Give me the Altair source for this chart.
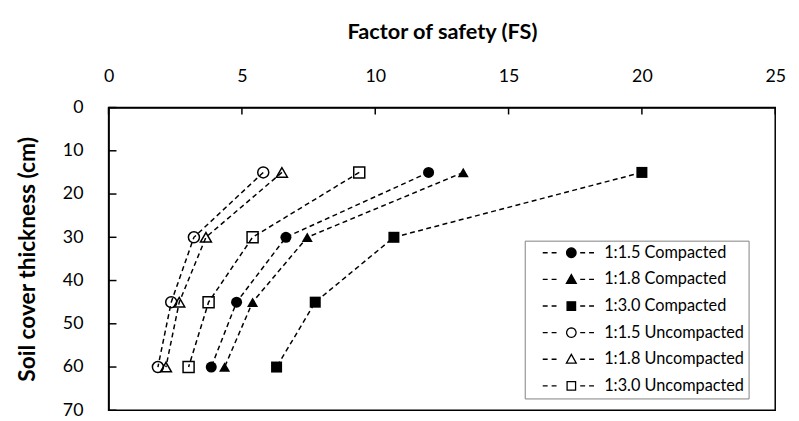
import math
import altair as alt
import pandas as pd

# ---- data ----
thickness = [15, 30, 45, 60]
series_names = [
    "1:1.5 Compacted", "1:1.8 Compacted", "1:3.0 Compacted",
    "1:1.5 Uncompacted", "1:1.8 Uncompacted", "1:3.0 Uncompacted",
]
fs_c15 = [12.0, 6.65, 4.8, 3.85]
fs_c18 = [13.3, 7.45, 5.4, 4.35]
fs_c30 = [20.0, 10.7, 7.75, 6.3]
fs_u15 = [5.8, 3.2, 2.35, 1.85]
fs_u18 = [6.5, 3.65, 2.65, 2.15]
fs_u30 = [9.4, 5.4, 3.75, 3.0]
x_ticks = [0, 5, 10, 15, 20, 25]
y_ticks = [0, 10, 20, 30, 40, 50, 60, 70]

all_fs = [fs_c15, fs_c18, fs_c30, fs_u15, fs_u18, fs_u30]
rows = []
for name, vals in zip(series_names, all_fs):
    for t, v in zip(thickness, vals):
        rows.append({"series": name, "thickness": t, "fs": v})
df = pd.DataFrame(rows)

shapes = ["circle", "triangle-up", "square", "circle", "triangle-up", "square"]
filled = [True, True, True, False, False, False]

# ---- legend symbol paths (dashed line + marker), unit = 7 px ----
U = 7.0
def px(v):
    return round(v / U, 3)

dashes = "".join(
    f"M{px(a)},0L{px(b)},0" for a, b in [(-29, -24), (-20, -15), (9, 14), (18, 23)]
)
def circle_path(r):
    pts = []
    for k in range(24):
        a = 2 * math.pi * k / 24
        pts.append(f"{round(r*math.cos(a),3)},{round(r*math.sin(a),3)}")
    return "M" + "L".join(pts) + "Z"
circ = circle_path(px(4.8))
tri = f"M0,{px(-5)}L{px(5)},{px(4)}L{px(-5)},{px(4)}Z"
sq = f"M{px(-4.3)},{px(-4.3)}L{px(4.3)},{px(-4.3)}L{px(4.3)},{px(4.3)}L{px(-4.3)},{px(4.3)}Z"
legend_paths = [dashes + circ, dashes + tri, dashes + sq] * 2
legend_fills = ["black", "black", "black", "white", "white", "white"]
legend_strokes = ["black"] * 6

FONT = "Lato"

xscale = alt.Scale(domain=[0, 25], nice=False)
yscale = alt.Scale(domain=[0, 70], reverse=True, nice=False)

x_enc = alt.X(
    "fs:Q", scale=xscale,
    axis=alt.Axis(orient="top", values=x_ticks, title="Factor of safety (FS)",
                  tickSize=0, labelPadding=22, titlePadding=25, grid=False,
                  labelFlush=False, titleFontSize=22),
)
y_enc = alt.Y(
    "thickness:Q", scale=yscale,
    axis=alt.Axis(orient="left", values=y_ticks, title="Soil cover thickness (cm)",
                  tickSize=0, labelPadding=26, titlePadding=23, grid=False,
                  labelFlush=False, titleFontSize=23),
)

base = alt.Chart(df)

lines = base.mark_line(strokeDash=[5, 3.5], strokeWidth=1.5, color="black").encode(
    x=x_enc, y=y_enc, detail="series:N", order="thickness:Q"
)

point_layers = []
for name, shp, fl in zip(series_names, shapes, filled):
    point_layers.append(
        base.transform_filter(alt.datum.series == name)
        .mark_point(shape=shp, filled=fl, size=125, color="black",
                    strokeWidth=1.5, opacity=1)
        .encode(x="fs:Q", y="thickness:Q")
    )

leg = alt.Legend(
    title=None, orient="none", legendX=422, legendY=135,
    padding=4, rowPadding=10, symbolSize=U * U * 4, symbolOffset=35,
    labelOffset=25, symbolStrokeWidth=1.3,
    symbolOpacity=1, labelFont=FONT, labelFontSize=16.5, labelColor="black",
    labelExpr="datum.label + '\u00a0\u00a0'",
    strokeColor="#808080", fillColor="white",
)
legend_layer = base.mark_point(opacity=0, filled=False).encode(
    x="fs:Q", y="thickness:Q",
    shape=alt.Shape("series:N", scale=alt.Scale(domain=series_names, range=legend_paths), legend=leg),
    fill=alt.Fill("series:N", scale=alt.Scale(domain=series_names, range=legend_fills), legend=leg),
    stroke=alt.Stroke("series:N", scale=alt.Scale(domain=series_names, range=legend_strokes), legend=leg),
)

xt = alt.Chart(pd.DataFrame({"fs": x_ticks})).mark_rule(color="black", strokeWidth=1.5).encode(
    x="fs:Q", y=alt.value(0), y2=alt.value(7)
)
yt = alt.Chart(pd.DataFrame({"thickness": y_ticks})).mark_rule(color="black", strokeWidth=1.5).encode(
    y="thickness:Q", x=alt.value(0), x2=alt.value(8)
)

chart = (
    alt.layer(lines, *point_layers, legend_layer, xt, yt)
    .properties(width=676, height=307, padding={"left": 9, "top": 10, "right": 5, "bottom": 5})
    .configure_view(stroke="black", strokeWidth=1.5)
    .configure_axis(
        domainColor="black", domainWidth=1.5, labelFont=FONT, labelFontSize=18,
        labelColor="black", titleFont=FONT, titleFontWeight="bold",
        titleColor="black",
    )
)

chart.save("out.html", embed_options={"renderer": "svg", "actions": False})
